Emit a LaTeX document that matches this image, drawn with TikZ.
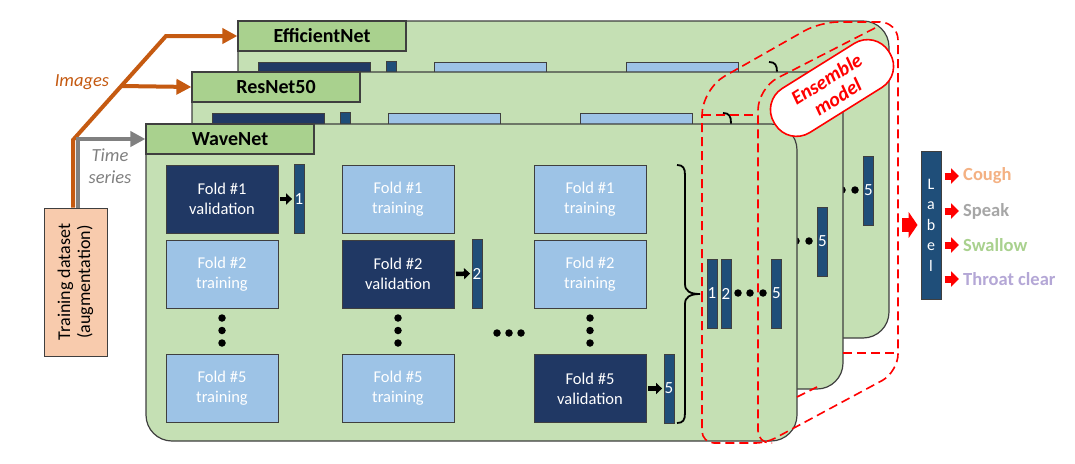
\documentclass[tikz,border=0pt]{standalone}
\usepackage{fontspec}
\setmainfont{Carlito}
\usetikzlibrary{arrows.meta}
\definecolor{pgreen}{HTML}{C5E0B4}
\definecolor{hgreen}{HTML}{A9D18E}
\definecolor{dblue}{HTML}{203864}
\definecolor{lblue}{HTML}{9DC3E6}
\definecolor{bblue}{HTML}{1F4E79}
\definecolor{edgec}{HTML}{3F3F3F}
\definecolor{dsfill}{HTML}{F8CBAD}
\definecolor{orangec}{HTML}{C55A11}
\definecolor{grayc}{HTML}{808080}
\definecolor{coughc}{HTML}{F4B183}
\definecolor{speakc}{HTML}{A6A6A6}
\definecolor{swallowc}{HTML}{A9D18E}
\definecolor{throatc}{HTML}{B4A7D6}
\tikzset{
 panel/.style={draw=edgec, fill=pgreen, line width=1.2pt, rounded corners=26pt, minimum width=651pt, minimum height=317pt, inner sep=0pt},
 header/.style={draw=edgec, fill=hgreen, line width=1.2pt, minimum width=168pt, minimum height=30pt, inner sep=0pt, font=\fontsize{20}{24}\selectfont\bfseries},
 dfold/.style={draw=edgec, fill=dblue, line width=1pt, minimum width=112pt, minimum height=68pt, inner sep=0pt, text=white, align=center, font=\fontsize{16.5}{20}\selectfont},
 lfold/.style={dfold, fill=lblue},
 outbar/.style={draw=edgec, fill=bblue, line width=0.8pt, minimum width=10pt, minimum height=69pt, inner sep=0pt, text=white, font=\fontsize{17}{17}\selectfont},
 dotn/.style={circle, fill=black, inner sep=0pt, minimum size=7.5pt},
 blkarr/.style={line width=4.5pt, -{Triangle[length=6pt,width=11pt]}, shorten <=1.5pt, shorten >=1.5pt},
 brc/.style={line width=1.8pt, black},
 feedline/.style={line width=4pt, -{Triangle[length=15pt,width=15pt]}},
 ens/.style={draw=red, line width=1.6pt, dash pattern=on 9pt off 5pt},
 redarr/.style={red, line width=7pt, -{Triangle[length=8pt,width=15pt]}, shorten <=3pt, shorten >=4pt},
 outlbl/.style={anchor=west, inner sep=0pt, font=\fontsize{18.5}{22}\selectfont\bfseries},
}
\newcommand\drawlayer[3]{%
\begin{scope}[shift={#3}]
\node[panel] (#1p) at (471.5,282.5) {};
\node[header] (#1h) at (230,139) {#2};
\node[dfold] (#1a1) at (222,199) {Fold \#1\\validation};
\node[lfold] (#1a2) at (222,274) {Fold \#2\\training};
\node[lfold] (#1a5) at (222,388.5) {Fold \#5\\training};
\node[lfold] (#1b1) at (398,199) {Fold \#1\\training};
\node[dfold] (#1b2) at (398,274) {Fold \#2\\validation};
\node[lfold] (#1b5) at (398,388.5) {Fold \#5\\training};
\node[lfold] (#1c1) at (590,199) {Fold \#1\\training};
\node[lfold] (#1c2) at (590,274) {Fold \#2\\training};
\node[dfold] (#1c5) at (590,388.5) {Fold \#5\\validation};
\node[outbar] (#1o1) at (299,199) {1};
\node[outbar] (#1o2) at (477,273.5) {2};
\node[outbar] (#1o5) at (669,388.5) {5};
\draw[blkarr] (#1a1.east) -- (#1o1.west);
\draw[blkarr] (#1b2.east) -- (#1o2.west);
\draw[blkarr] (#1c5.east) -- (#1o5.west);
\node[dotn] (#1da1) at (222,318) {};
\node[dotn] (#1da2) at (222,330.5) {};
\node[dotn] (#1da3) at (222,343) {};
\node[dotn] (#1db1) at (398,318) {};
\node[dotn] (#1db2) at (398,330.5) {};
\node[dotn] (#1db3) at (398,343) {};
\node[dotn] (#1dc1) at (590,318) {};
\node[dotn] (#1dc2) at (590,330.5) {};
\node[dotn] (#1dc3) at (590,343) {};
\node[dotn] (#1dh1) at (497,333) {};
\node[dotn] (#1dh2) at (509,333) {};
\node[dotn] (#1dh3) at (521,333) {};
\draw[brc] (677,165) .. controls (683,165) and (685,168) .. (685,175) -- (685,284)
  .. controls (685,291) and (690,294) .. (700,294)
  .. controls (690,294) and (685,297) .. (685,304) -- (685,413)
  .. controls (685,420) and (683,423) .. (677,423);
\node[outbar] (#1m1) at (712,293.5) {1};
\node[outbar] (#1m2) at (726,293.5) {2};
\node[dotn] (#1dm1) at (738,293) {};
\node[dotn] (#1dm2) at (750,293) {};
\node[dotn] (#1dm3) at (763,293) {};
\node[outbar] (#1m5) at (776.5,293.5) {5};
\end{scope}}
\begin{document}
\begin{tikzpicture}[x=1pt,y=-1pt]
\useasboundingbox (0,0) rectangle (1075,463);
\fill[white] (0,0) rectangle (1075,463);
\drawlayer{E}{EfficientNet}{(92,-103)}
\drawlayer{R}{ResNet50}{(46,-52)}
\drawlayer{W}{WaveNet}{(0,0)}
% ensemble outline
\draw[ens] (702,300) [rounded corners=26pt] -- (702,89) [rounded corners=18pt] -- (820,22) -- (898,22) -- (898,372) [rounded corners=10pt] -- (766,443) [rounded corners=12pt] -- (702,443) -- (702,300);
\draw[ens] (702,115) -- (758,115);
\draw[ens] (875,28) [rounded corners=22pt] -- (758,88) [rounded corners=12pt] -- (758,443) -- (772,443);
\draw[ens] (843,353) -- (896,353);
\draw[ens] (797,397) -- (817,387);
\node[draw=red, line width=1.6pt, fill=white, rounded corners=25pt, minimum width=135pt, minimum height=52pt, inner sep=0pt, rotate=32, text=red, align=center, font=\fontsize{20}{21}\selectfont\bfseries\itshape] (ensm) at (832,88) {Ensemble\\model};
% training dataset and feeds
\node[draw=edgec, fill=dsfill, line width=1pt, minimum width=148pt, minimum height=63pt, inner sep=0pt, rotate=90, align=center, font=\fontsize{18}{20}\selectfont] (ds) at (75.5,282) {Training dataset\\(augmentation)};
\coordinate (oc) at (73,140);
\coordinate (od) at (166,36);
\coordinate (ob) at (121,86);
\coordinate (gc) at (78,139);
\draw[feedline, orangec] (ds.east -| oc) -- (oc) -- (od) -- (Eh.west);
\draw[feedline, orangec] (ob) -- (Rh.west);
\draw[feedline, grayc] (ds.east -| gc) -- (gc) -- (Wh.west);
\node[text=orangec, font=\fontsize{18.5}{20}\selectfont\itshape] (img) at (82,82) {Images};
\node[text=grayc, align=center, font=\fontsize{18.5}{22}\selectfont\itshape] (ts) at (110,166) {Time\\series};
% label and outputs
\node[draw=edgec, fill=bblue, line width=1pt, minimum width=20pt, minimum height=148pt, inner sep=0pt, text=white, align=center, font=\fontsize{16}{20.5}\selectfont] (lbl) at (931,225) {L\\a\\b\\e\\l};
\coordinate (ensr) at (902,225);
\draw[red, line width=14pt, -{Triangle[length=9pt,width=26pt]}, shorten >=3pt] (ensr) -- (lbl.west);
\node[outlbl, text=coughc] (cough) at (963,176) {Cough};
\node[outlbl, text=speakc] (speak) at (963,211) {Speak};
\node[outlbl, text=swallowc] (swallow) at (963,245) {Swallow};
\node[outlbl, text=throatc] (throat) at (963,279) {Throat clear};
\draw[redarr] (lbl.east |- cough.west) -- (cough.west);
\draw[redarr] (lbl.east |- speak.west) -- (speak.west);
\draw[redarr] (lbl.east |- swallow.west) -- (swallow.west);
\draw[redarr] (lbl.east |- throat.west) -- (throat.west);
\end{tikzpicture}
\end{document}
